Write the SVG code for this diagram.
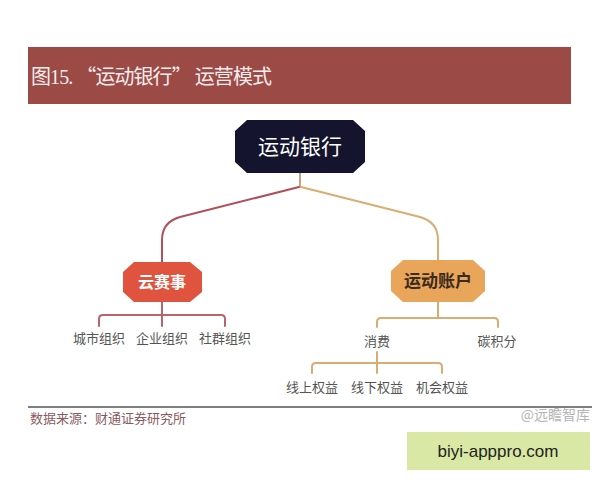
<svg xmlns="http://www.w3.org/2000/svg" width="600" height="480" viewBox="0 0 600 480">
<style>
.lbl{font-family:"Noto Sans CJK SC","Noto Sans",sans-serif;font-size:13px;fill:#555;text-anchor:middle}
.conn{fill:none;stroke-width:2;stroke-linecap:round;stroke-linejoin:round}
.red{stroke:#b0505a}
.tan{stroke:#d9ac72}
</style>
<rect x="0" y="0" width="600" height="480" fill="#ffffff"/>
<g id="header">
<rect x="28" y="47" width="543" height="57" fill="#9b4a46"/>
<text x="31" y="84" font-family="Liberation Serif,Noto Sans CJK SC,serif" font-size="20" fill="#f6eeee" textLength="241">图15. <tspan font-family="Noto Sans CJK SC,sans-serif">“</tspan>运动银行<tspan font-family="Noto Sans CJK SC,sans-serif">”</tspan> 运营模式</text>
</g>
<g id="connectors">
<path class="conn" d="M300,173 L300,187" stroke="#c9a27a"/>
<path class="conn red" d="M299,187 L180,217 Q162,222 162,240 L162,262"/>
<path class="conn tan" d="M301,187 L420,217 Q438,222 438,240 L438,260"/>
<path class="conn" stroke="#b8646a" d="M162,302 L162,326 M99,326 L99,319 Q99,315 103,315 L221,315 Q225,315 225,319 L225,326"/>
<path class="conn tan" d="M438,302 L438,318 M377,327 L377,322 Q377,318 381,318 L494,318 Q498,318 498,322 L498,327"/>
<path class="conn tan" d="M377,352 L377,373 M312,373 L312,367 Q312,363 316,363 L438,363 Q442,363 442,367 L442,373"/>
</g>
<g id="node-bank">
<polygon points="247,120 353,120 365,131 365,162 353,173 247,173 235,162 235,131" fill="#14142e"/>
<text x="300" y="154" font-family="Noto Sans CJK SC,sans-serif" font-size="21" fill="#ffffff" text-anchor="middle">运动银行</text>
</g>
<g id="node-cloud">
<polygon points="134,262 190,262 202,272 202,292 190,302 134,302 123,292 123,272" fill="#e0533e"/>
<text x="162" y="288" font-family="Noto Sans CJK SC,sans-serif" font-size="16" font-weight="bold" fill="#ffffff" text-anchor="middle">云赛事</text>
</g>
<g id="node-account">
<polygon points="403,260 473,260 485,271 485,291 473,302 403,302 391,291 391,271" fill="#e9a55a"/>
<text x="438" y="287" font-family="Noto Sans CJK SC,sans-serif" font-size="17" font-weight="bold" fill="#3a2a1c" text-anchor="middle">运动账户</text>
</g>
<g id="leaf-city"><text class="lbl" x="99" y="343">城市组织</text></g>
<g id="leaf-company"><text class="lbl" x="162" y="343">企业组织</text></g>
<g id="leaf-community"><text class="lbl" x="225" y="343">社群组织</text></g>
<g id="leaf-consume"><text class="lbl" x="377" y="346">消费</text></g>
<g id="leaf-carbon"><text class="lbl" x="497" y="346">碳积分</text></g>
<g id="leaf-online"><text class="lbl" x="312" y="392">线上权益</text></g>
<g id="leaf-offline"><text class="lbl" x="377" y="392">线下权益</text></g>
<g id="leaf-chance"><text class="lbl" x="442" y="392">机会权益</text></g>
<g id="footer">
<line x1="28" y1="407" x2="592" y2="407" stroke="#555" stroke-width="1.5"/>
<text x="30" y="423" font-family="Noto Sans CJK SC,serif" font-size="13" fill="#8a5a5e">数据来源：财通证券研究所</text>
<text x="590" y="420" font-family="Noto Sans CJK SC,sans-serif" font-size="14" fill="#b5b5b5" text-anchor="end">@远瞻智库</text>
<rect x="407" y="432" width="183" height="38" fill="#d9e8a5"/>
<text x="498" y="457" font-family="Liberation Sans,Arial,sans-serif" font-size="17" fill="#222" text-anchor="middle">biyi-apppro.com</text>
</g>
</svg>
